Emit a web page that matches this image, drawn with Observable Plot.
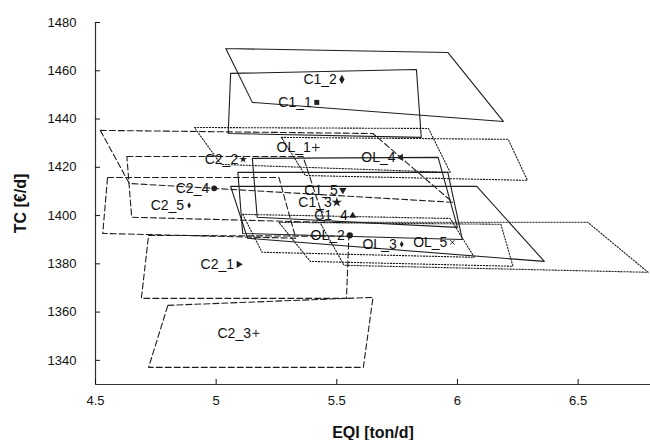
<!DOCTYPE html>
<html><head><meta charset="utf-8">
<script src="https://cdn.jsdelivr.net/npm/d3@7"></script>
<script src="https://cdn.jsdelivr.net/npm/@observablehq/plot@0.6"></script>
<style>
body{margin:0;background:#fff;}
#chart svg [aria-label="y-axis label"] text, #chart svg [aria-label="x-axis label"] text{font-weight:bold;font-size:16px;}
</style></head><body><div id="chart"></div>
<script>
// ---- data ----
const xDomain = [4.5, 6.8];
const yDomain = [1330, 1480];
const xTicks = [4.5, 5, 5.5, 6, 6.5];
const yTicks = [1340, 1360, 1380, 1400, 1420, 1440, 1460, 1480];

// C1 (solid) polygons
const c1Names = ["C1_1", "C1_2", "C1_3", "C1_4", "C1_5"];
const c1PolyX = [[5.06, 5.83, 5.85, 5.05], [5.04, 5.96, 6.19, 5.15], [5.15, 5.92, 6.00, 5.17], [5.09, 5.96, 6.02, 5.11], [5.06, 6.08, 6.36, 5.13]];
const c1PolyY = [[1458.9, 1460.5, 1432.4, 1434.0], [1469.2, 1467.6, 1439.0, 1446.9], [1423.7, 1424.1, 1395.1, 1399.3], [1417.9, 1417.9, 1390.1, 1392.6], [1412.1, 1412.1, 1381.0, 1390.6]];
// C2 (dashed) polygons
const c2Names = ["C2_1", "C2_2", "C2_3", "C2_4", "C2_5"];
const c2PolyX = [[4.72, 5.55, 5.54, 4.69], [4.63, 5.36, 5.45, 4.65], [4.80, 5.65, 5.61, 4.72], [4.52, 5.65, 5.98, 4.64], [4.55, 5.26, 5.33, 4.53]];
const c2PolyY = [[1391.8, 1391.4, 1365.7, 1365.7], [1424.5, 1424.5, 1397.2, 1399.3], [1362.8, 1366.1, 1337.1, 1337.1], [1435.3, 1434.0, 1405.5, 1413.3], [1415.8, 1415.8, 1390.6, 1392.6]];
// OL (dotted) polygons
const olNames = ["OL_1", "OL_2", "OL_3", "OL_4", "OL_5"];
const olPolyX = [[4.91, 5.88, 5.97, 5.02], [5.11, 5.97, 6.07, 5.19], [5.26, 6.18, 6.23, 5.39], [5.27, 6.21, 6.29, 5.37], [5.43, 6.54, 6.79, 5.53]];
const olPolyY = [[1436.5, 1436.1, 1417.9, 1421.2], [1400.5, 1398.8, 1382.7, 1384.8], [1397.2, 1396.4, 1379.0, 1381.0], [1432.4, 1431.6, 1414.6, 1416.6], [1397.2, 1397.2, 1376.5, 1379.4]];

// labelled points
const ptNames = ["C1_1", "C1_2", "C1_3", "C1_4", "C1_5", "C2_1", "C2_2", "C2_3", "C2_4", "C2_5", "OL_1", "OL_2", "OL_3", "OL_4", "OL_5"];
const ptX = [5.417, 5.521, 5.500, 5.566, 5.525, 5.095, 5.112, 5.165, 4.992, 4.888, 5.413, 5.554, 5.769, 5.764, 5.979];
const ptY = [1446.9, 1456.4, 1405.5, 1400.1, 1410.4, 1379.8, 1423.3, 1351.2, 1411.3, 1404.2, 1428.2, 1391.8, 1388.1, 1424.1, 1388.9];
const ptSymbol = ["square", "diamond", "star", "triUp", "triDown", "triRight", "star", "plus", "circle", "diamond", "plus", "circle", "diamond", "triLeft", "times"];
const ptSize = [2.8, 2.8, 3.2, 3.2, 3.2, 3.2, 2.4, 2.4, 2.9, 1.9, 2.6, 3.1, 2.0, 3.2, 2.1];

// ---- build ----
const ink = "#1e1e1e";
function rows(names, px, py) {
  const out = [];
  names.forEach((n, i) => {
    const xs = px[i], ys = py[i];
    for (let k = 0; k <= xs.length; k++) out.push({name: n, x: xs[k % xs.length], y: ys[k % ys.length]});
  });
  return out;
}
const tri = (pts) => ({draw(ctx, size) { const r = Math.sqrt(size / Math.PI) * 1.15; ctx.moveTo(pts[0][0] * r, pts[0][1] * r); for (let i = 1; i < pts.length; i++) ctx.lineTo(pts[i][0] * r, pts[i][1] * r); ctx.closePath(); }});
const customSymbols = {
  triUp: tri([[-1, 0.65], [1, 0.65], [0, -1]]),
  triDown: tri([[-1, -0.65], [1, -0.65], [0, 1]]),
  triRight: tri([[-0.65, -1], [-0.65, 1], [1, 0]]),
  triLeft: tri([[0.65, -1], [0.65, 1], [-1, 0]])
};
const strokeOnly = new Set(["plus", "times"]);
const pts = ptNames.map((n, i) => ({name: n, x: ptX[i], y: ptY[i], sym: ptSymbol[i], r: ptSize[i]}));

const dotMarks = pts.map(p => {
  const s = customSymbols[p.sym] || p.sym;
  return strokeOnly.has(p.sym)
    ? Plot.dot([p], {x: "x", y: "y", symbol: s, r: p.r, stroke: ink, strokeWidth: 1, fill: "none"})
    : Plot.dot([p], {x: "x", y: "y", symbol: s, r: p.r, fill: ink, stroke: "none"});
});

const chart = Plot.plot({
  width: 650,
  height: 440,
  marginLeft: 95,
  marginRight: 0,
  marginTop: 22,
  marginBottom: 56,
  style: {fontFamily: "'Liberation Sans', Arial, sans-serif", fontSize: "13px", color: "#111", background: "#fff"},
  x: {domain: xDomain},
  y: {domain: yDomain},
  marks: [
    Plot.line(rows(c1Names, c1PolyX, c1PolyY), {x: "x", y: "y", z: "name", stroke: ink, strokeWidth: 1.1}),
    Plot.line(rows(c2Names, c2PolyX, c2PolyY), {x: "x", y: "y", z: "name", stroke: ink, strokeWidth: 1.1, strokeDasharray: "6,3"}),
    Plot.line(rows(olNames, olPolyX, olPolyY), {x: "x", y: "y", z: "name", stroke: ink, strokeWidth: 1.1, strokeDasharray: "1.3,1.7"}),
    ...dotMarks,
    Plot.text(pts, {x: "x", y: "y", text: "name", textAnchor: "end", dx: -5, fontSize: 14, fill: "#111"}),
    Plot.ruleX([xDomain[0]], {stroke: "#333", strokeWidth: 1.2}),
    Plot.ruleY([yDomain[0]], {stroke: "#333", strokeWidth: 1.2}),
    Plot.axisX({ticks: xTicks, tickSize: -5, tickPadding: 16, tickFormat: d => String(d), label: "EQI [ton/d]", labelAnchor: "center", labelArrow: "none", labelOffset: 53}),
    Plot.axisY({ticks: yTicks, tickSize: -5, tickPadding: 24, tickFormat: d => String(d), label: "TC [€/d]", labelAnchor: "center", labelArrow: "none", labelOffset: 81})
  ]
});
document.getElementById("chart").appendChild(chart);
</script></body></html>
